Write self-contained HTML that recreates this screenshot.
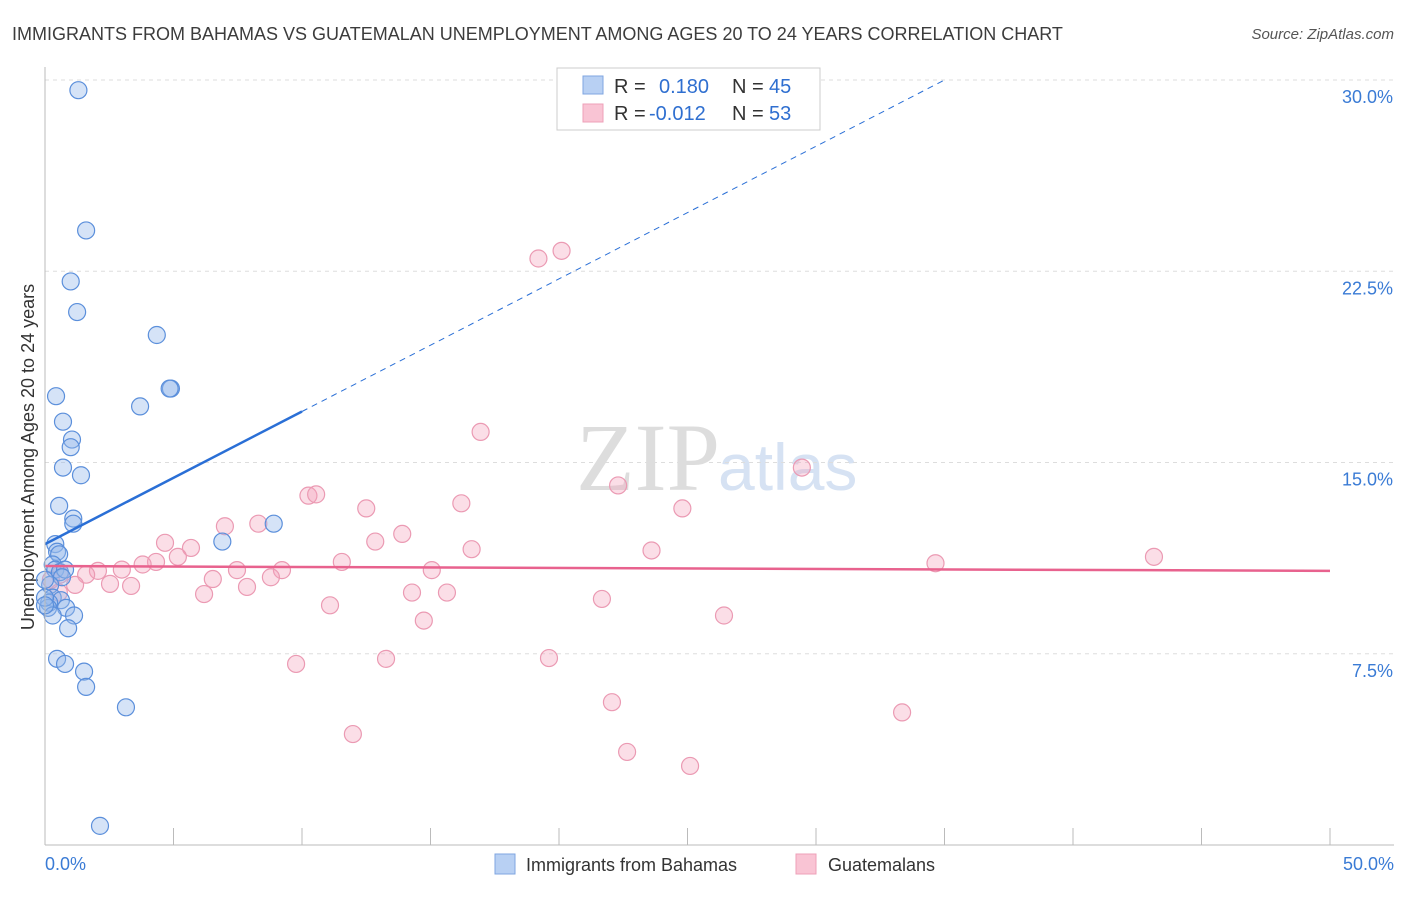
<!DOCTYPE html><html><head><meta charset="utf-8"><style>
body{margin:0;background:#fff;font-family:"Liberation Sans",sans-serif}
</style></head><body>
<svg width="1406" height="892" id="c" xmlns="http://www.w3.org/2000/svg">
<text x="12" y="40" font-size="18" fill="#3c3c3c">IMMIGRANTS FROM BAHAMAS VS GUATEMALAN UNEMPLOYMENT AMONG AGES 20 TO 24 YEARS CORRELATION CHART</text>
<text x="1394" y="39" font-size="15" fill="#555" font-style="italic" text-anchor="end">Source: ZipAtlas.com</text>
<text transform="translate(34,457) rotate(-90)" font-size="18" fill="#333" text-anchor="middle">Unemployment Among Ages 20 to 24 years</text>
<text x="720" y="490" font-size="96" fill="#ddd" text-anchor="end" font-family="Liberation Serif">ZIP</text>
<text x="718" y="490" font-size="66" fill="#d6e2f3">atlas</text>
<g id="grid"></g><g id="pts"></g><g id="lines"></g>
<line x1="45" y1="67" x2="45" y2="845" stroke="#bbb"/>
<line x1="45" y1="845" x2="1394" y2="845" stroke="#bbb"/>
<text x="45" y="870" font-size="18" fill="#3a7bd5">0.0%</text>
<text x="1394" y="870" font-size="18" fill="#3a7bd5" text-anchor="end">50.0%</text>
<rect x="557" y="68" width="263" height="62" fill="#fff" stroke="#ccc"/>
<rect x="583" y="76" width="20" height="18" fill="#b8d0f3" stroke="#7fa6e0"/>
<rect x="583" y="104" width="20" height="18" fill="#f9c4d4" stroke="#eea0b8"/>
<g font-size="20" fill="#333"><text x="614" y="93">R = </text><text x="614" y="120">R = </text><text x="732" y="93">N = </text><text x="732" y="120">N = </text></g>
<g font-size="20" fill="#2f6fd0"><text x="659" y="93">0.180</text><text x="649" y="120">-0.012</text><text x="769" y="93">45</text><text x="769" y="120">53</text></g>
<rect x="495" y="854" width="20" height="20" fill="#b8d0f3" stroke="#7fa6e0"/>
<text x="526" y="871" font-size="18" fill="#333">Immigrants from Bahamas</text>
<rect x="796" y="854" width="20" height="20" fill="#f9c4d4" stroke="#eea0b8"/>
<text x="828" y="871" font-size="18" fill="#333">Guatemalans</text>
</svg>
<script>
const yTicks=[7.5,15,22.5,30];
const blueX=[1.3,1.6,1,1.25,4.35,4.9,4.85,0.43,3.7,0.7,1.05,1,0.7,1.4,0.55,1.1,1.1,6.9,8.9,0.4,0.47,0.55,0.3,0.4,0.58,0.78,0.66,0.2,0.3,0.62,0.16,0.12,0.82,1.13,0.3,0.9,0.47,0.78,1.52,1.6,3.15,2.14,0,0,0];
const blueY=[29.6,24.1,22.1,20.9,20.0,17.9,17.9,17.6,17.2,16.6,15.9,15.6,14.8,14.5,13.3,12.8,12.6,11.9,12.6,11.8,11.5,11.4,11.0,10.8,10.7,10.8,10.5,10.2,9.7,9.6,9.5,9.3,9.3,9.0,9.0,8.5,7.3,7.1,6.8,6.2,5.4,0.75,10.4,9.7,9.4];
const pinkX=[20.1,19.2,16.95,29.45,22.3,10.25,10.55,16.2,24.8,12.5,8.3,7,13.9,12.85,4.67,5.68,16.6,23.6,34.65,43.15,5.17,4.32,11.55,3.8,2.99,2.06,9.22,7.47,15.05,1.6,0.58,8.79,6.53,0.23,1.17,2.53,3.35,7.86,0.54,14.28,15.64,6.19,21.67,11.09,14.74,26.42,9.77,13.27,19.61,22.06,33.35,11.98,22.65,25.1];
const pinkY=[23.3,23.0,16.2,14.8,14.1,13.7,13.75,13.4,13.2,13.2,12.6,12.5,12.2,11.9,11.85,11.65,11.6,11.55,11.05,11.3,11.3,11.1,11.1,11.0,10.8,10.75,10.78,10.78,10.78,10.6,10.6,10.5,10.43,10.4,10.2,10.24,10.16,10.12,9.9,9.9,9.9,9.84,9.65,9.4,8.8,9.0,7.1,7.3,7.33,5.6,5.2,4.35,3.65,3.1];
const blueFit=[11.8,17.0];const pinkFit=[10.94,10.75];
const X=v=>45+v*25.7, Y=v=>845-v*25.5;
const NS='http://www.w3.org/2000/svg';
function mk(t,a,p){const e=document.createElementNS(NS,t);for(const k in a)e.setAttribute(k,a[k]);document.getElementById(p).appendChild(e);return e;}
yTicks.forEach(t=>{const l=mk('line',{x1:45,x2:1394,y1:Y(t),y2:Y(t),stroke:'#ddd','stroke-dasharray':'4,4'},'grid');


const s=mk('text',{x:1393,y:Y(t)+23,'font-size':18,fill:'#3a7bd5','text-anchor':'end'},'grid');s.textContent=t.toFixed(1)+'%';

});
for(let i=0;i<=10;i++){const l=mk('line',{x1:X(i*5),x2:X(i*5),y1:828,y2:845,stroke:'#bbb'},'grid');

}
pinkX.forEach((x,i)=>{const c=mk('circle',{cx:X(x),cy:Y(pinkY[i]),r:8.5,fill:'rgba(244,160,185,0.35)',stroke:'#eb9ab3','stroke-width':1.2},'pts');

});
blueX.forEach((x,i)=>{const c=mk('circle',{cx:X(x),cy:Y(blueY[i]),r:8.5,fill:'rgba(150,185,235,0.4)',stroke:'#5b8fdb','stroke-width':1.2},'pts');

});
const bs=(blueFit[1]-blueFit[0])/10, bx=x=>blueFit[0]+bs*x;
let l=mk('line',{x1:X(0),y1:Y(bx(0)),x2:X(10),y2:Y(bx(10)),stroke:'#2a6fd6','stroke-width':2.5},'lines');


const xe=(30-blueFit[0])/bs;
l=mk('line',{x1:X(10),y1:Y(bx(10)),x2:X(xe),y2:Y(30),stroke:'#2a6fd6','stroke-width':1,'stroke-dasharray':'6,5'},'lines');


l=mk('line',{x1:X(0),y1:Y(pinkFit[0]),x2:X(50),y2:Y(pinkFit[1]),stroke:'#e8628e','stroke-width':2.5},'lines');


</script></body></html>
